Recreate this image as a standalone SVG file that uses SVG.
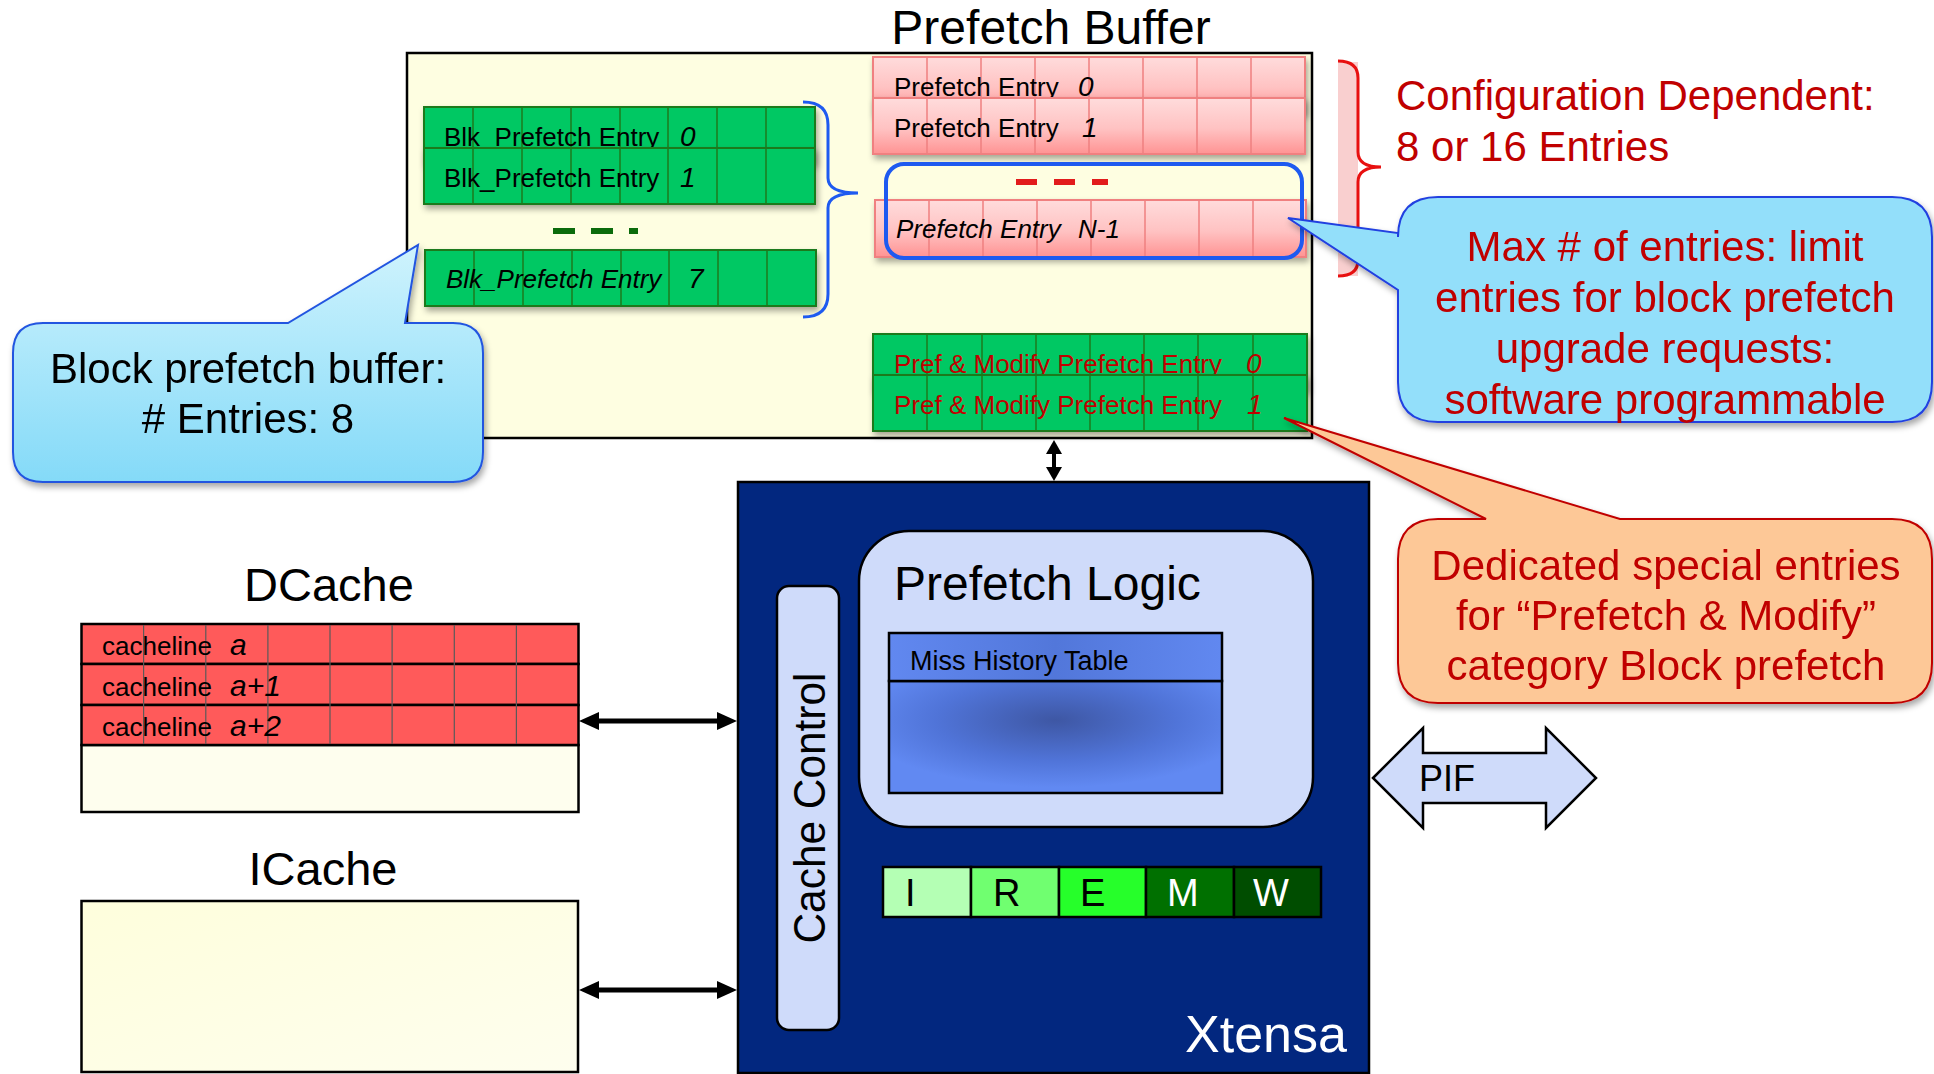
<svg xmlns="http://www.w3.org/2000/svg" width="1934" height="1074" viewBox="0 0 1934 1074">
  <defs>
    <style>
      text { font-family: "Liberation Sans", Arial, sans-serif; }
      .t26 { font-size: 26px; fill: #000; }
      .num { font-size: 28px; font-style: italic; fill: #000; }
      .red { fill: #C00000; }
      .big { font-size: 42px; }
      .green { fill: #00C864; stroke: #1E7A1E; stroke-width: 2; }
      .gline { stroke: #1E7A1E; stroke-width: 1.5; fill: none; }
      .pink { fill: url(#pinkGrad); stroke: #F08080; stroke-width: 2; }
      .pline { stroke: #F08080; stroke-width: 1.5; fill: none; }
      .blk { stroke: #000; stroke-width: 2.5; }
      .lav { fill: #CFDBFA; stroke: #000; stroke-width: 2.5; }
      .conn { stroke: #000; stroke-width: 5; fill: none; }
    </style>
    <linearGradient id="pinkGrad" x1="0" y1="0" x2="0" y2="1">
      <stop offset="0" stop-color="#FFDCDC"/>
      <stop offset="0.55" stop-color="#FFC2C2"/>
      <stop offset="1" stop-color="#FF9393"/>
    </linearGradient>
    <linearGradient id="calloutBlue" x1="0" y1="0" x2="0" y2="1">
      <stop offset="0" stop-color="#CFF3FD"/>
      <stop offset="1" stop-color="#84DAF8"/>
    </linearGradient>
    <linearGradient id="cream" x1="0" y1="0" x2="1" y2="1">
      <stop offset="0" stop-color="#FEFEDC"/>
      <stop offset="1" stop-color="#FEFEEE"/>
    </linearGradient>
    <linearGradient id="mhtHead" x1="0" y1="0" x2="1" y2="0">
      <stop offset="0" stop-color="#6188F0"/>
      <stop offset="0.5" stop-color="#5277DA"/>
      <stop offset="1" stop-color="#6188F0"/>
    </linearGradient>
    <radialGradient id="mhtBody" cx="0.5" cy="0.35" r="0.6">
      <stop offset="0" stop-color="#3E57A4"/>
      <stop offset="0.6" stop-color="#5074D8"/>
      <stop offset="1" stop-color="#6189F2"/>
    </radialGradient>
    <filter id="sh" x="-5%" y="-10%" width="115%" height="150%">
      <feDropShadow dx="2" dy="4" stdDeviation="3" flood-color="#000" flood-opacity="0.35"/>
    </filter>
    <marker id="ahBig" markerUnits="userSpaceOnUse" markerWidth="20" markerHeight="18" viewBox="0 0 20 18" refX="12" refY="9" orient="auto-start-reverse">
      <path d="M0,0 L20,9 L0,18 z" fill="#000"/>
    </marker>
    <marker id="ahSmall" markerUnits="userSpaceOnUse" markerWidth="14" markerHeight="16" viewBox="0 0 14 16" refX="8" refY="8" orient="auto-start-reverse">
      <path d="M0,0 L14,8 L0,16 z" fill="#000"/>
    </marker>
  </defs>

  <rect width="1934" height="1074" fill="#FFFFFF"/>

  <!-- Prefetch buffer container -->
  <g id="prefetch-buffer">
    <text x="1051" y="44" text-anchor="middle" font-size="48">Prefetch Buffer</text>
    <rect x="407" y="53" width="905" height="385" fill="#FEFEE1" stroke="#000" stroke-width="2.5"/>
  </g>

  <!-- Block prefetch entries -->
  <g id="blk-entries">
    <g filter="url(#sh)">
      <rect class="green" x="424" y="107" width="391" height="56"/>
    </g>
    <path class="gline" d="M473,107v56M522,107v56M571,107v56M620,107v56M668,107v56M717,107v56M766,107v56"/>
    <text class="t26" x="444" y="146">Blk_Prefetch Entry</text>
    <text class="num" x="680" y="146">0</text>

    <g filter="url(#sh)">
      <rect class="green" x="424" y="148" width="391" height="56"/>
    </g>
    <path class="gline" d="M473,148v56M522,148v56M571,148v56M620,148v56M668,148v56M717,148v56M766,148v56"/>
    <text class="t26" x="444" y="187">Blk_Prefetch Entry</text>
    <text class="num" x="680" y="187">1</text>

    <path d="M553,231h22M591,231h22M629,231h9" stroke="#0B6B0B" stroke-width="6" fill="none"/>

    <g filter="url(#sh)">
      <rect class="green" x="425" y="250" width="391" height="56"/>
    </g>
    <path class="gline" d="M474,250v56M523,250v56M572,250v56M621,250v56M669,250v56M718,250v56M767,250v56"/>
    <text class="t26" x="446" y="288" font-style="italic">Blk_Prefetch Entry</text>
    <text class="num" x="688" y="288">7</text>

    <path d="M803,102 Q828,102 828,125 L828,178 Q828,193 858,193 Q828,193 828,208 L828,294 Q828,317 803,317" stroke="#1E5AF0" stroke-width="3" fill="none"/>
  </g>

  <!-- Regular prefetch entries -->
  <g id="prefetch-entries">
    <g filter="url(#sh)">
      <rect class="pink" x="873" y="57" width="432" height="56"/>
    </g>
    <path class="pline" d="M927,57v56M981,57v56M1035,57v56M1089,57v56M1143,57v56M1197,57v56M1251,57v56"/>
    <text class="t26" x="894" y="96">Prefetch Entry</text>
    <text class="num" x="1078" y="96">0</text>

    <g filter="url(#sh)">
      <rect class="pink" x="873" y="98" width="432" height="56"/>
    </g>
    <path class="pline" d="M927,98v56M981,98v56M1035,98v56M1089,98v56M1143,98v56M1197,98v56M1251,98v56"/>
    <text class="t26" x="894" y="137">Prefetch Entry</text>
    <text class="num" x="1082" y="137">1</text>

    <path d="M1016,182h21M1054,182h21M1092,182h16" stroke="#E21B1B" stroke-width="6" fill="none"/>

    <g filter="url(#sh)">
      <rect class="pink" x="875" y="200" width="431" height="57"/>
    </g>
    <path class="pline" d="M929,200v57M983,200v57M1037,200v57M1091,200v57M1145,200v57M1199,200v57M1253,200v57"/>
    <text class="t26" x="896" y="238" font-style="italic">Prefetch Entry</text>
    <text class="t26" x="1078" y="238" font-style="italic">N-1</text>

    <rect x="886" y="164" width="416" height="94" rx="18" fill="none" stroke="#1E5AF0" stroke-width="4"/>
  </g>

  <!-- Prefetch & Modify entries -->
  <g id="pm-entries">
    <g filter="url(#sh)">
      <rect class="green" x="873" y="334" width="434" height="56"/>
    </g>
    <path class="gline" d="M927,334v56M982,334v56M1036,334v56M1090,334v56M1144,334v56M1198,334v56M1253,334v56"/>
    <text class="t26 red" x="894" y="373">Pref &amp; Modify Prefetch Entry</text>
    <text class="num red" x="1246" y="373">0</text>

    <g filter="url(#sh)">
      <rect class="green" x="873" y="375" width="434" height="56"/>
    </g>
    <path class="gline" d="M927,375v56M982,375v56M1036,375v56M1090,375v56M1144,375v56M1198,375v56M1253,375v56"/>
    <text class="t26 red" x="894" y="414">Pref &amp; Modify Prefetch Entry</text>
    <text class="num red" x="1247" y="414">1</text>
  </g>

  <!-- Configuration note with red brace -->
  <g id="config-note">
    <rect x="1338" y="62" width="20" height="214" fill="#F9CFCF"/>
    <path d="M1338,61 Q1358,61 1358,78 L1358,152 Q1358,167 1381,167 Q1358,167 1358,182 L1358,260 Q1358,276 1338,276" stroke="#E81010" stroke-width="3" fill="none"/>
    <text class="red" x="1396" y="110" font-size="42">Configuration Dependent:</text>
    <text class="red" x="1396" y="161" font-size="42">8 or 16 Entries</text>
  </g>

  <!-- Xtensa core -->
  <g id="xtensa">
    <rect x="738" y="482" width="631" height="591" fill="#02277F" stroke="#000" stroke-width="2.5"/>
    <text x="1185" y="1052" font-size="52" fill="#FFFFFF">Xtensa</text>
  </g>

  <g id="prefetch-logic">
    <rect class="lav" x="859" y="531" width="454" height="296" rx="50"/>
    <text x="894" y="600" font-size="48">Prefetch Logic</text>
  </g>

  <g id="miss-history-table">
    <rect x="889" y="681" width="333" height="112" fill="url(#mhtBody)" class="blk"/>
    <rect x="889" y="633" width="333" height="48" fill="url(#mhtHead)" class="blk"/>
    <text x="910" y="670" font-size="27">Miss History Table</text>
  </g>

  <g id="cache-control">
    <rect class="lav" x="777" y="586" width="62" height="444" rx="12"/>
    <text transform="translate(825,808) rotate(-90)" text-anchor="middle" font-size="44" textLength="271" lengthAdjust="spacingAndGlyphs">Cache Control</text>
  </g>

  <g id="pipeline">
    <rect x="883" y="867" width="88" height="50" fill="#B4FFB4" class="blk"/>
    <rect x="971" y="867" width="88" height="50" fill="#70FF70" class="blk"/>
    <rect x="1059" y="867" width="87" height="50" fill="#26FF2A" class="blk"/>
    <rect x="1146" y="867" width="88" height="50" fill="#007000" class="blk"/>
    <rect x="1234" y="867" width="87" height="50" fill="#004D00" class="blk"/>
    <text x="905" y="906" font-size="38">I</text>
    <text x="993" y="906" font-size="38">R</text>
    <text x="1080" y="906" font-size="38">E</text>
    <text x="1167" y="906" font-size="38" fill="#FFFFFF">M</text>
    <text x="1253" y="906" font-size="38" fill="#FFFFFF">W</text>
  </g>

  <!-- PIF bus -->
  <g id="pif">
    <path d="M1373,778 L1423,728 L1423,753 L1546,753 L1546,728 L1596,778 L1546,828 L1546,803 L1423,803 L1423,828 Z" fill="#CFDBFA" stroke="#000" stroke-width="2.5"/>
    <text x="1419" y="791" font-size="36">PIF</text>
  </g>

  <!-- DCache -->
  <g id="dcache">
    <text x="329" y="601" text-anchor="middle" font-size="47">DCache</text>
    <rect x="81.5" y="745" width="497" height="67" fill="#FEFEEE" class="blk"/>
    <rect x="81.5" y="624" width="497" height="40" fill="#FF5A5A" class="blk"/>
    <rect x="81.5" y="664" width="497" height="41" fill="#FF5A5A" class="blk"/>
    <rect x="81.5" y="705" width="497" height="40" fill="#FF5A5A" class="blk"/>
    <path d="M143.6,625v119M205.8,625v119M267.9,625v119M330,625v119M392.1,625v119M454.3,625v119M516.4,625v119" stroke="#5A5A5A" stroke-width="1.2" fill="none"/>
    <text class="t26" x="102" y="655">cacheline</text>
    <text x="230" y="655" font-size="30" font-style="italic">a</text>
    <text class="t26" x="102" y="696">cacheline</text>
    <text x="230" y="696" font-size="30" font-style="italic">a+1</text>
    <text class="t26" x="102" y="736">cacheline</text>
    <text x="230" y="736" font-size="30" font-style="italic">a+2</text>
  </g>

  <!-- ICache -->
  <g id="icache">
    <text x="323" y="885" text-anchor="middle" font-size="47">ICache</text>
    <rect x="81.5" y="901" width="496.5" height="171" fill="url(#cream)" class="blk"/>
  </g>

  <!-- Connectors -->
  <g id="connectors">
    <line class="conn" x1="587" y1="721" x2="729" y2="721" marker-start="url(#ahBig)" marker-end="url(#ahBig)"/>
    <line class="conn" x1="587" y1="990" x2="729" y2="990" marker-start="url(#ahBig)" marker-end="url(#ahBig)"/>
    <line stroke="#000" stroke-width="4" x1="1054" y1="446" x2="1054" y2="475" marker-start="url(#ahSmall)" marker-end="url(#ahSmall)"/>
  </g>

  <!-- Callouts -->
  <g id="callout-block-buffer" filter="url(#sh)">
    <path d="M43,323 L288,323 L418,245 L405,323 L453,323 Q483,323 483,353 L483,452 Q483,482 453,482 L43,482 Q13,482 13,452 L13,353 Q13,323 43,323 Z" fill="url(#calloutBlue)" stroke="#2255E0" stroke-width="2"/>
    <text class="big" x="248" y="383" text-anchor="middle">Block prefetch buffer:</text>
    <text class="big" x="248" y="433" text-anchor="middle"># Entries: 8</text>
  </g>

  <g id="callout-max-entries" filter="url(#sh)">
    <path d="M1438,197 L1892,197 Q1932,197 1932,237 L1932,382 Q1932,422 1892,422 L1438,422 Q1398,422 1398,382 L1398,290 L1288,218 L1398,233 L1398,237 Q1398,197 1438,197 Z" fill="#93DFFA" stroke="#2040E0" stroke-width="2"/>
    <text class="big red" x="1665" y="261" text-anchor="middle">Max # of entries: limit</text>
    <text class="big red" x="1665" y="312" text-anchor="middle">entries for block prefetch</text>
    <text class="big red" x="1665" y="363" text-anchor="middle">upgrade requests:</text>
    <text class="big red" x="1665" y="414" text-anchor="middle">software programmable</text>
  </g>

  <g id="callout-pm" filter="url(#sh)">
    <path d="M1438,519 L1486,519 L1284,418 L1620,519 L1892,519 Q1932,519 1932,559 L1932,663 Q1932,703 1892,703 L1438,703 Q1398,703 1398,663 L1398,559 Q1398,519 1438,519 Z" fill="#FDC897" stroke="#C00000" stroke-width="2"/>
    <text class="big red" x="1666" y="580" text-anchor="middle">Dedicated special entries</text>
    <text class="big red" x="1666" y="630" text-anchor="middle">for “Prefetch &amp; Modify”</text>
    <text class="big red" x="1666" y="680" text-anchor="middle">category Block prefetch</text>
  </g>
</svg>
